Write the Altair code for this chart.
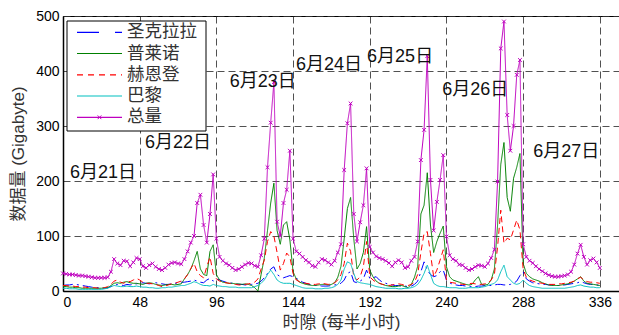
import altair as alt
import pandas as pd

# time slots (every second half-hour slot)
t_slots = list(range(0, 337, 2))

santa_clara = [10,11,11,12,12,11,10,9,8,7,6,6,5,5,6,
               8,10,12,11,10,12,11,12,13,
               14,15,14,13,14,15,14,13,12,12,13,14,15,16,
               16,17,18,20,18,16,15,20,23,18,22,
               20,18,16,15,14,13,12,12,11,11,12,13,
               14,18,24,32,40,44,30,26,24,26,28,26,23,
               20,16,14,12,11,10,10,9,9,9,10,11,
               12,14,20,32,35,17,15,18,22,38,23,24,26,
               20,16,14,12,11,10,10,9,9,8,9,12,
               18,35,53,38,30,26,28,35,38,20,15,12,
               11,10,10,9,9,8,8,9,9,10,10,10,11,
               12,12,11,11,12,14,18,28,35,22,
               18,15,14,13,12,12,11,11,10,10,10,11,12,13,14,15,17,15,13,12,12,11,10]

plano = [8,8,7,7,6,6,5,5,5,5,5,5,5,6,6,
         10,14,15,14,16,17,15,14,14,
         13,12,14,15,14,12,11,10,11,12,12,11,12,13,
         22,30,40,55,72,40,30,28,72,84,30,
         20,16,15,14,14,13,13,12,13,12,10,6,
         0,30,60,110,160,196,110,85,120,126,93,35,22,
         16,14,12,11,10,10,11,12,12,11,12,15,
         25,45,95,150,170,95,40,50,70,117,38,26,18,
         14,12,10,9,8,8,9,10,8,6,12,25,
         45,140,156,215,120,70,90,105,118,44,26,20,
         18,16,14,12,11,12,20,26,12,11,12,20,40,
         120,230,270,170,145,205,225,250,50,32,
         26,22,20,18,15,13,11,10,10,10,11,12,13,15,18,22,26,18,14,13,12,11,10]

herndon = [10,10,9,9,8,8,7,7,6,6,6,5,5,6,8,
           12,18,20,16,14,18,17,20,23,
           20,16,14,14,13,12,10,8,9,11,13,14,16,18,
           22,30,41,50,35,28,24,44,62,32,22,
           18,16,15,14,13,12,11,11,12,13,14,16,
           22,40,56,90,108,100,70,38,50,69,62,32,20,
           17,15,14,13,12,12,13,14,13,12,13,15,
           20,30,50,87,72,25,20,26,44,90,26,20,16,
           14,12,11,10,11,12,13,12,10,10,12,16,
           30,70,105,108,68,26,38,56,75,20,16,15,
           14,13,12,12,13,14,13,12,12,13,15,20,30,
           80,147,87,96,93,111,129,111,40,25,
           20,18,16,15,14,13,12,12,12,13,13,14,15,16,18,22,25,20,17,16,16,15,14]

paris = [5,5,4,4,4,3,3,3,3,3,3,3,3,4,5,
         8,10,9,8,8,9,8,8,9,
         8,7,7,6,6,5,5,6,6,7,7,8,9,10,
         10,12,14,17,15,12,10,10,9,12,10,
         9,8,8,7,7,7,6,6,6,6,6,8,
         10,14,20,30,38,30,20,16,14,14,14,12,10,
         8,6,5,5,5,4,4,4,5,5,6,8,
         12,20,40,53,50,32,17,15,14,13,12,10,8,
         7,6,5,5,5,5,4,4,5,5,6,8,
         12,20,32,47,30,14,10,8,8,7,6,6,
         6,5,5,5,6,6,6,6,7,8,10,12,14,
         20,35,47,26,20,14,12,14,20,14,
         10,8,7,6,5,5,5,5,5,5,5,5,6,7,8,10,11,9,8,7,7,6,6]

total = [32,31,30,30,29,28,28,27,26,25,24,24,24,24,25,
         35,58,50,47,55,54,45,52,60,
         58,45,42,47,50,44,40,38,42,48,51,52,50,49,
         58,72,88,100,160,175,120,88,140,212,95,
         62,55,50,47,42,38,40,44,48,51,50,46,
         44,65,95,225,306,380,126,100,160,184,255,95,72,
         68,62,56,52,46,44,52,58,56,52,48,55,
         70,85,220,305,341,140,90,125,156,223,80,70,63,
         60,58,55,51,45,52,56,52,42,44,55,62,
         90,238,293,427,202,110,162,202,247,99,65,58,
         55,48,47,42,38,40,44,47,46,44,50,60,75,
         199,441,490,320,255,300,393,420,85,62,
         55,51,45,40,36,32,29,27,26,26,27,28,30,35,48,68,84,62,48,56,59,52,42]

names = ["圣克拉拉", "普莱诺", "赫恩登", "巴黎", "总量"]
colors = ["#0000FF", "#008000", "#FF0000", "#00BFBF", "#BF00BF"]
dashes = [[10, 4, 2, 4], [1, 0], [6, 4], [1, 0], [1, 0]]
legend_dashes = [[22, 16, 7, 20], [1, 0], [6, 5], [1, 0], [1, 0]]

ann_text = ["6月21日", "6月22日", "6月23日", "6月24日", "6月25日", "6月26日", "6月27日"]
ann_x = [25, 72, 125, 166.5, 211, 258, 315]
ann_y = [214, 269, 380, 411, 425, 365, 253]

x_ticks = [0, 48, 96, 144, 192, 240, 288, 336]
y_ticks = [0, 100, 200, 300, 400, 500]

rows = []
for name, vals in zip(names, [santa_clara, plano, herndon, paris, total]):
    for t, v in zip(t_slots, vals):
        rows.append({"slot": t, "value": v, "series": name})
df = pd.DataFrame(rows)
ann_df = pd.DataFrame({"x": ann_x, "y": ann_y, "label": ann_text})

FONT = "Liberation Sans, Arial, Noto Sans CJK SC"
X_MARK = "M-1,-1L1,1M-1,1L1,-1"

x_enc = alt.X("slot:Q",
              scale=alt.Scale(domain=[0, 348], nice=False),
              axis=alt.Axis(values=x_ticks, title="时隙 (每半小时)", format="d"))
y_enc = alt.Y("value:Q",
              scale=alt.Scale(domain=[0, 500], nice=False),
              axis=alt.Axis(values=y_ticks, title="数据量 (Gigabyte)", format="d"))

layers = []
for name, col, dash in zip(names, colors, dashes):
    layers.append(
        alt.Chart(df).transform_filter(alt.datum.series == name)
        .mark_line(strokeWidth=1, clip=True, color=col, strokeDash=dash)
        .encode(x=x_enc, y=y_enc)
    )

markers = (alt.Chart(df).transform_filter(alt.datum.series == "总量")
           .mark_point(shape=X_MARK, size=14, filled=False,
                       strokeWidth=1, color="#BF00BF", opacity=1)
           .encode(x=x_enc, y=y_enc))

labels = (alt.Chart(ann_df)
          .mark_text(font=FONT, fontSize=18, color="#111111", align="center", baseline="middle")
          .encode(x="x:Q", y="y:Q", text="label:N"))

# ---- legend box (layout in pixels inside the plot area) ----
one = pd.DataFrame({"a": [0]})
leg_rows = [16.3, 37.5, 58.8, 80.0, 101.3]
legend_layers = [
    alt.Chart(one).mark_rect(fill="white", stroke="black", strokeWidth=1)
    .encode(x=alt.value(4), x2=alt.value(143), y=alt.value(5), y2=alt.value(115))
]
for name, col, dash, yy in zip(names, colors, legend_dashes, leg_rows):
    legend_layers.append(
        alt.Chart(one).mark_rule(color=col, strokeWidth=1.2, strokeDash=dash)
        .encode(x=alt.value(14), x2=alt.value(59), y=alt.value(yy))
    )
    legend_layers.append(
        alt.Chart(one).mark_text(font=FONT, fontSize=17.5, color="#333333",
                                 align="left", baseline="middle")
        .encode(x=alt.value(64), y=alt.value(yy), text=alt.value(name))
    )
legend_layers.append(
    alt.Chart(one).mark_point(shape=X_MARK, size=14, filled=False, strokeWidth=1,
                              color="#BF00BF", opacity=1)
    .encode(x=alt.value(36.5), y=alt.value(leg_rows[-1]))
)

chart = (alt.layer(*layers, markers, labels, *legend_layers)
         .properties(width=556, height=275, autosize="none",
                     padding={"left": 63, "top": 16, "right": 0, "bottom": 44},
                     background="white")
         .configure_view(stroke="black", strokeWidth=1)
         .configure_axis(labelFont="Liberation Sans", labelFontSize=14, labelColor="black",
                         titleFont=FONT, titleFontSize=17, titleFontWeight="normal",
                         titleColor="#333333", domainColor="black", domainWidth=1.5,
                         tickSize=0, labelPadding=4,
                         gridColor="#333333", gridDash=[7, 4], gridWidth=1, gridOpacity=0.85)
         .configure_axisX(titlePadding=5)
         .configure_axisY(titlePadding=8))

chart.save("out.html", embed_options={"renderer": "svg", "actions": False})
